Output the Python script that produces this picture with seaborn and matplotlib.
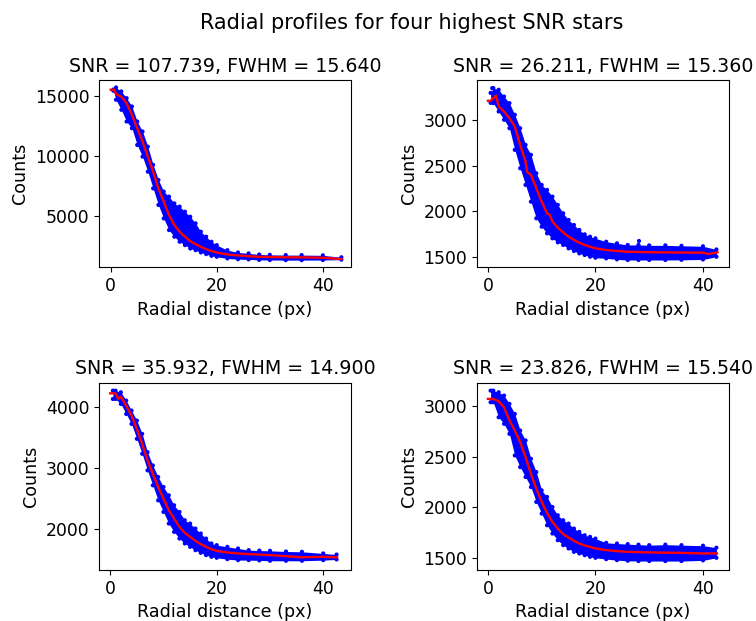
import matplotlib
matplotlib.use("Agg")
import matplotlib.pyplot as plt
from matplotlib.ticker import MultipleLocator
import seaborn as sns
import numpy as np

plt.rcParams['font.family'] = ['DejaVu Sans']

# Panel titles
titles = [
    "SNR = 107.739, FWHM = 15.640",
    "SNR = 26.211, FWHM = 15.360",
    "SNR = 35.932, FWHM = 14.900",
    "SNR = 23.826, FWHM = 15.540",
]

# Envelope radii of the scatter cloud (px)
env_r = [0.5, 1, 2, 3, 4, 5, 6, 7, 8, 9, 10, 11, 12, 13, 14, 15, 16, 17, 18, 19, 20,
         22, 24, 26, 28, 30, 33, 36, 40, 42.5]
env_r1 = [0.5, 1, 2, 3, 4, 5, 6, 7, 8, 9, 10, 11, 12, 13, 14, 15, 16, 17, 18, 19, 20,
          22, 24, 26, 28, 30, 33, 36, 40, 43.5]

# Panel 1
top1 = [15550, 15720, 15390, 14830, 14140, 12890, 12060, 10800, 9280, 8030, 7060, 6640,
        6080, 5810, 5390, 4970, 4420, 3720, 3310, 2890, 2610, 2190, 2000, 1920, 1830,
        1800, 1780, 1780, 1760, 1600]
low1 = [15450, 14700, 13860, 12890, 12330, 10940, 9970, 8720, 7330, 5950, 4830, 3860,
        3310, 2890, 2610, 2330, 2190, 2000, 1860, 1720, 1640, 1500, 1440, 1420, 1380,
        1370, 1360, 1360, 1370, 1400]
prof_r1 = [0, 0.7, 1, 1.6, 2, 3, 4, 5, 6, 7, 8, 9, 10, 11, 12, 13, 14, 15, 16, 17, 18, 19,
           20, 22, 24, 26, 28, 30, 33, 36, 40, 43.5]
prof1 = [15530, 15530, 15170, 15050, 14950, 14420, 13440, 12330, 11220, 9970, 8720, 7330,
         6220, 5110, 4280, 3720, 3310, 2940, 2690, 2470, 2280, 2110, 2000, 1830, 1750,
         1690, 1640, 1620, 1600, 1590, 1560, 1450]

# Panel 2
top2 = [3300, 3352, 3334, 3260, 3187, 3059, 2912, 2729, 2619, 2417, 2289, 2234, 2160,
        2069, 1977, 1904, 1849, 1794, 1746, 1720, 1702, 1665, 1647, 1629, 1630, 1625,
        1625, 1620, 1615, 1580]
low2 = [3190, 3187, 3095, 3004, 2912, 2674, 2472, 2289, 2105, 1922, 1830, 1757, 1702,
        1658, 1629, 1592, 1563, 1537, 1519, 1500, 1489, 1482, 1471, 1464, 1464, 1464,
        1464, 1466, 1470, 1500]
prof_r2 = [0, 0.5, 1, 1.5, 2, 3, 4, 5, 6, 7, 7.3, 8, 9, 10, 11, 11.5, 12, 13, 14, 15, 16,
           17, 18, 19, 20, 22, 24, 26, 28, 30, 33, 36, 40, 41, 42.7]
prof2 = [3213, 3213, 3242, 3271, 3150, 3095, 3022, 2930, 2729, 2545, 2430, 2399, 2252,
         2105, 1977, 1960, 1885, 1819, 1768, 1720, 1684, 1654, 1629, 1610, 1592, 1574,
         1563, 1555, 1552, 1550, 1548, 1546, 1545, 1530, 1548]
out_r2 = [28.1, 0.8]
out_c2 = [1673, 3352]

# Panel 3
top3 = [4261, 4261, 4234, 4098, 3935, 3772, 3554, 3255, 3038, 2848, 2685, 2549, 2386,
        2277, 2141, 2087, 2005, 1924, 1842, 1761, 1734, 1706, 1679, 1652, 1645, 1641,
        1630, 1625, 1598, 1580]
low3 = [4125, 4125, 4043, 3880, 3717, 3473, 3228, 2957, 2712, 2467, 2277, 2087, 1951,
        1842, 1761, 1706, 1652, 1609, 1571, 1543, 1527, 1505, 1489, 1489, 1484, 1478,
        1478, 1478, 1489, 1500]
prof_r3 = [0, 1, 1.5, 2, 3, 4, 5, 6, 7, 8, 9, 10, 11, 12, 13, 14, 15, 16, 17, 18, 19, 20,
           22, 24, 26, 30, 36, 40, 42.6]
prof3 = [4217, 4217, 4125, 4163, 4016, 3853, 3636, 3391, 3120, 2902, 2685, 2495, 2304,
         2168, 2033, 1935, 1870, 1804, 1750, 1706, 1668, 1641, 1614, 1598, 1587, 1571,
         1535, 1543, 1533]

# Panel 4
top4 = [3151, 3151, 3135, 3102, 3020, 2921, 2757, 2659, 2478, 2347, 2166, 2101, 2002,
        1920, 1871, 1838, 1789, 1756, 1723, 1707, 1690, 1648, 1641, 1635, 1630, 1625,
        1630, 1625, 1620, 1600]
low4 = [3036, 3036, 2888, 2823, 2724, 2511, 2396, 2298, 2199, 2052, 1937, 1822, 1740,
        1674, 1625, 1592, 1559, 1543, 1526, 1510, 1500, 1487, 1477, 1471, 1468, 1468,
        1468, 1468, 1475, 1500]
prof_r4 = [0, 1, 2, 3, 4, 5, 6, 7, 8, 9, 10, 11, 12, 13, 14, 15, 16, 17, 18, 19, 20, 22,
           24, 26, 30, 36, 40, 42.6]
prof4 = [3069, 3069, 3046, 2987, 2856, 2757, 2642, 2495, 2330, 2183, 2052, 1943, 1855,
         1789, 1733, 1700, 1668, 1641, 1622, 1608, 1592, 1576, 1566, 1559, 1553, 1549,
         1543, 1543]

panels = [
    (env_r1, top1, low1, prof_r1, prof1, [], []),
    (env_r, top2, low2, prof_r2, prof2, out_r2, out_c2),
    (env_r, top3, low3, prof_r3, prof3, [], []),
    (env_r, top4, low4, prof_r4, prof4, [], []),
]
xlims = [(-2.2, 45.3), (-2.05, 44.8), (-2.1, 45.2), (-2.05, 44.8)]
ylims = [(750, 16333), (1382, 3440), (1326, 4391), (1379, 3229)]

fig = plt.figure(figsize=(7.56, 6.21), dpi=100)
fig.subplots_adjust(left=0.131, right=0.964, top=0.871, bottom=0.082,
                    wspace=0.5, hspace=0.615)
axes = fig.subplots(2, 2).ravel()

for ax, (er, top, low, pr, prof, orr, oc), title, xl, yl in zip(axes, panels, titles, xlims, ylims):
    ax.fill_between(er, low, top, color='blue', lw=0)
    sns.scatterplot(x=er, y=top, ax=ax, color='blue', s=9, edgecolor='none')
    sns.scatterplot(x=er, y=low, ax=ax, color='blue', s=9, edgecolor='none')
    if orr:
        sns.scatterplot(x=orr, y=oc, ax=ax, color='blue', s=9, edgecolor='none')
    sns.lineplot(x=pr, y=prof, ax=ax, color='red', lw=1.7, sort=False, estimator=None)
    ax.set_xlim(*xl)
    ax.set_ylim(*yl)
    ax.xaxis.set_major_locator(MultipleLocator(20))
    ax.set_title(title, fontsize=13.7)
    ax.set_xlabel("Radial distance (px)", fontsize=12.6)
    ax.set_ylabel("Counts", fontsize=12.6)
    ax.tick_params(labelsize=12.4)

fig.suptitle("Radial profiles for four highest SNR stars", x=0.545, y=0.963,
             va='center', fontsize=15)
fig.savefig("out.png", dpi=100)
